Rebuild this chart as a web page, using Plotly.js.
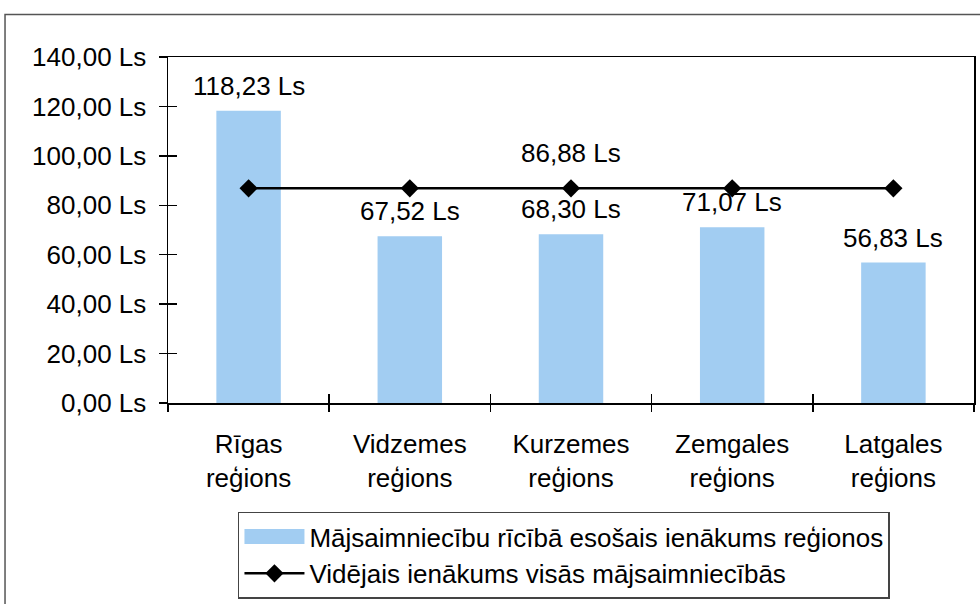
<!DOCTYPE html>
<html>
<head>
<meta charset="utf-8">
<script src="https://cdn.plot.ly/plotly-3.0.1.min.js"></script>
<style>html,body{margin:0;padding:0;background:#fff;}#chart{width:980px;height:604px;}</style>
</head>
<body>
<div id="chart"></div>
<script>
var categories = ['Rīgas<br>reģions', 'Vidzemes<br>reģions', 'Kurzemes<br>reģions', 'Zemgales<br>reģions', 'Latgales<br>reģions'];
var incomes = [118.23, 67.52, 68.30, 71.07, 56.83];
var average = [86.88, 86.88, 86.88, 86.88, 86.88];
var averageLabelIndex = 2;
var seriesNames = ['Mājsaimniecību rīcībā esošais ienākums reģionos', 'Vidējais ienākums visās mājsaimniecībās'];

function fmt(v) { return v.toFixed(2).replace('.', ',') + ' Ls'; }

var FONT = 'Liberation Sans, Arial, Helvetica, sans-serif';
var FS = 26;

var traces = [
  {
    type: 'bar', x: categories, y: incomes, name: seriesNames[0],
    marker: {color: '#a2cdf2', line: {width: 0}},
    hoverinfo: 'none'
  },
  {
    type: 'scatter', mode: 'lines+markers', x: categories, y: average, name: seriesNames[1],
    line: {color: '#000', width: 2.5},
    marker: {symbol: 'diamond', size: 14, color: '#000'},
    hoverinfo: 'none'
  },
  {
    type: 'scatter', mode: 'markers', x: categories, y: incomes, xaxis: 'x2', yaxis: 'y2',
    marker: {opacity: 0}, showlegend: false, hoverinfo: 'none'
  }
];

var annotations = [];
for (var i = 0; i < categories.length; i++) {
  annotations.push({
    x: categories[i], y: incomes[i], xref: 'x', yref: 'y',
    text: fmt(incomes[i]), showarrow: false, yanchor: 'middle', yshift: 25,
    font: {family: FONT, size: FS, color: '#000'}
  });
}
annotations.push({
  x: categories[averageLabelIndex], y: average[averageLabelIndex], xref: 'x', yref: 'y',
  text: fmt(average[averageLabelIndex]), showarrow: false, yanchor: 'middle', yshift: 35,
  font: {family: FONT, size: FS, color: '#000'}
});

var layout = {
  width: 980, height: 604,
  margin: {l: 168, r: 6, t: 57, b: 197},
  paper_bgcolor: '#fff', plot_bgcolor: '#fff',
  separators: ',.',
  font: {family: FONT, size: FS, color: '#000'},
  barmode: 'overlay',
  bargap: 0.6,
  showlegend: true,
  xaxis: {
    type: 'category', tickson: 'boundaries', ticks: 'outside', ticklen: 7, tickwidth: 1.5, tickcolor: '#000',
    showline: true, linecolor: '#000', linewidth: 1.5, mirror: true,
    showgrid: false, zeroline: false, ticklabelstandoff: 17,
    tickfont: {family: FONT, size: FS, color: '#000'},
    range: [-0.5, 4.5], fixedrange: true
  },
  yaxis: {
    range: [0, 140], dtick: 20, tick0: 0, tickformat: '.2f', ticksuffix: ' Ls',
    ticks: 'outside', ticklen: 8, tickwidth: 1.5, tickcolor: '#000',
    showline: true, linecolor: '#000', linewidth: 1.5, mirror: true,
    showgrid: false, zeroline: false, ticklabelstandoff: 7,
    tickfont: {family: FONT, size: FS, color: '#000'}, fixedrange: true
  },
  xaxis2: {
    type: 'category', overlaying: 'x', tickson: 'boundaries', ticks: 'inside', ticklen: 9, tickwidth: 1.5, tickcolor: '#000',
    showticklabels: false, showline: false, showgrid: false, zeroline: false, range: [-0.5, 4.5], side: 'bottom'
  },
  yaxis2: {
    overlaying: 'y', range: [0, 140], dtick: 20, tick0: 0, ticks: 'inside', ticklen: 9, tickwidth: 1.5, tickcolor: '#000',
    showticklabels: false, showline: false, showgrid: false, zeroline: false, side: 'left'
  },
  legend: {
    x: 0.0868, xanchor: 'left', y: -0.314, yanchor: 'top',
    bgcolor: '#fff', bordercolor: '#444', borderwidth: 1.5,
    font: {family: FONT, size: FS, color: '#000'},
    itemwidth: 60, tracegroupgap: 0
  },
  annotations: annotations,
  shapes: [
    {type: 'rect', xref: 'paper', yref: 'paper', x0: -0.2022, x1: 1.2, y0: -0.8, y1: 1.1229,
     line: {color: '#555', width: 1.5}, fillcolor: 'rgba(0,0,0,0)', layer: 'below'}
  ]
};

Plotly.newPlot('chart', traces, layout, {displayModeBar: false, staticPlot: true}).then(function (gd) {
  // widen the bar legend swatch to match the line swatch
  var items = gd.querySelectorAll('.legend .traces');
  if (items.length < 2) return;
  var barPath = items[0].querySelector('.legendpoints path');
  var linePath = items[1].querySelector('.legendlines path');
  if (!barPath || !linePath) return;
  var br = barPath.getBoundingClientRect();
  var lr = linePath.getBoundingClientRect();
  var cx = br.left + br.width / 2;
  var x0 = (lr.left - cx).toFixed(1), x1 = (lr.right - cx).toFixed(1);
  barPath.setAttribute('d', 'M' + x0 + ',-7.5H' + x1 + 'V7.5H' + x0 + 'Z');
});
</script>
</body>
</html>
